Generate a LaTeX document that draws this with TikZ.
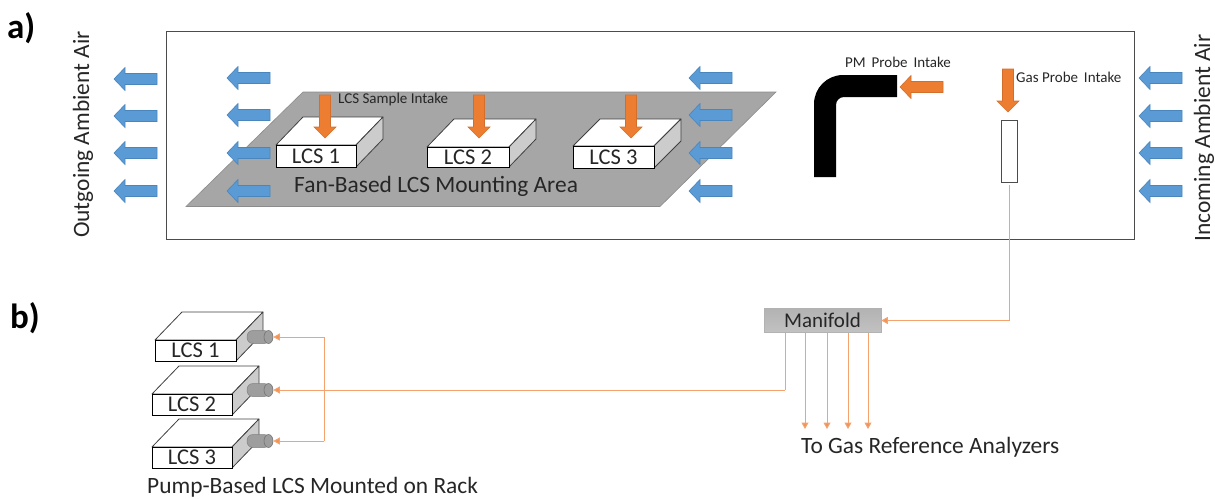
\documentclass[tikz,border=0pt]{standalone}
\usepackage{fontspec}
\setmainfont{Carlito}
\usetikzlibrary{arrows.meta,shapes.geometric}
\definecolor{blk}{HTML}{5B9BD5}
\definecolor{blkd}{HTML}{4A86BE}
\definecolor{org}{HTML}{ED7D31}
\definecolor{orgd}{HTML}{D46F2B}
\definecolor{conn}{HTML}{F4A26E}
\definecolor{txt}{HTML}{262626}
\tikzset{
  frontbox/.style={draw=black,line width=0.9pt,fill=white,inner sep=0pt,font=\fontsize{22.5}{22.5}\selectfont,text=txt},
  topface/.style={draw=black!75,line width=0.8pt,fill=white,line join=round},
  sideface/.style={draw=black!75,line width=0.8pt,fill=black!20,line join=round},
  conline/.style={draw=conn,line width=1pt},
  conarrow/.style={conline,-{Triangle[length=6.5pt,width=7pt,fill=conn!60!org]}},
  label/.style={inner sep=0pt,text=txt},
  small/.style={label,font=\fontsize{15}{15}\selectfont},
  mid/.style={label,font=\fontsize{23.4}{23.4}\selectfont},
  head/.style={inner sep=0pt,font=\bfseries\fontsize{35}{35}\selectfont,text=black},
  cylbody/.style={fill=black!38,draw=black!50,line width=0.5pt,rounded corners=6pt},
  cylcap/.style={ellipse,fill=black!38,draw=black!55,line width=0.6pt,minimum width=9pt,minimum height=13pt,inner sep=0pt}
}
% left-pointing block arrow: tip x, centre y
\newcommand{\leftblock}[4]{\filldraw[fill=#3,draw=#4,line width=0.6pt,line join=miter]
  (#1,#2) -- ++(11,-11.5) -- ++(0,6) -- ++(32,0) -- ++(0,11) -- ++(-32,0) -- ++(0,6) -- cycle;}
% down-pointing orange block arrow: centre x, top y
\newcommand{\downblock}[2]{\filldraw[fill=org,draw=orgd,line width=0.6pt]
  (#1-5.5,#2) -- ++(11,0) -- ++(0,32) -- ++(5.5,0) -- ++(-11,11) -- ++(-11,-11) -- ++(5.5,0) -- cycle;}
% LCS box: name, front x1,x2,y1,y2, depth dx,dy, text
\newcommand{\lcsbox}[8]{%
  \filldraw[topface] (#2,#4) -- ++(#6,-#7) -- (#3+#6,#4-#7) -- (#3,#4) -- cycle;
  \filldraw[sideface] (#3,#4) -- (#3+#6,#4-#7) -- (#3+#6,#5-#7) -- (#3,#5) -- cycle;
  \node[frontbox,minimum width=#3pt-#2pt,minimum height=#5pt-#4pt] (#1) at ({(#2+#3)/2},{(#4+#5)/2}) {#8};}
% pump cylinder: name, centre y
\newcommand{\pump}[2]{%
  \filldraw[cylbody] (247,#2-6.5) rectangle (270,#2+6.5);
  \node[cylcap] (#1) at (268.5,#2) {};}
\begin{document}
\begin{tikzpicture}[x=1pt,y=-1pt]
\useasboundingbox (0,0) rectangle (1215,498);
\node[head,anchor=west] (hA) at (7,28) {a)};
\node[head,anchor=west] (hB) at (10,318) {b)};
\draw[draw=black!70,line width=1pt] (166.5,31.5) rectangle (1134,239);
\filldraw[fill=black!35,draw=black!45,line width=0.6pt] (303,92) -- (776,92) -- (660,206.5) -- (186,206.5) -- cycle;
% blue arrows
\foreach \x/\y in {114/79,114/116,114/153,114/191,
                   227/78,227/115,227/153,227/191,
                   689/78,689/115,689/153,689/191,
                   1139/78,1139/116,1139/153,1139/191}{\leftblock{\x}{\y}{blk}{blkd}}
% fan LCS
\lcsbox{fan1}{276}{356}{145}{167}{27}{28}{LCS 1}
\lcsbox{fan2}{427}{509}{147}{167}{27}{28}{LCS 2}
\lcsbox{fan3}{573}{654}{146}{168}{27}{27}{LCS 3}
\downblock{325}{95}
\downblock{479}{95}
\downblock{631}{95}
\node[small,anchor=west] (lsi) at (338,99) {LCS Sample Intake};
\node[mid,anchor=west] (fan) at (294,186) {Fan-Based LCS Mounting Area};
% PM probe
\fill[black] (814,177) -- (814,104) arc[start angle=180,end angle=270,radius=29] -- (897,75) -- (897,97) -- (844,97) arc[start angle=270,end angle=180,radius=8] -- (836,177) -- cycle;
\leftblock{900}{87}{org}{orgd}
\node[small,anchor=west] (pmi) at (845,62) {PM\ \,Probe\ \,Intake};
% gas probe
\downblock{1008}{69}
\node[small,anchor=west] (gpi) at (1016,77) {Gas Probe\ \,Intake};
\node[draw=black!70,line width=0.8pt,fill=white,minimum width=16pt,minimum height=62pt,inner sep=0pt] (gas) at (1009,151) {};
% side labels
\node[mid,rotate=90] (out) at (83,134.5) {Outgoing Ambient Air};
\node[mid,rotate=90] (inc) at (1204,138) {Incoming Ambient Air};
% manifold
\node[draw=black!30,line width=0.6pt,top color=black!30,bottom color=black!24,minimum width=117pt,minimum height=24.5pt,inner sep=0pt,font=\fontsize{21}{21}\selectfont,text=txt] (man) at (822.5,320.5) {Manifold};
\coordinate (gasout) at (1009,185);
\draw[conarrow] (gasout) |- (man.east);
\foreach \x/\n in {805/a,827/b,848/c,868/d}{
  \coordinate (m\n) at (\x,333);
  \coordinate (e\n) at (\x,429);
  \draw[conarrow] (m\n) -- (e\n);
}
\node[mid,anchor=west] (togas) at (801,447) {To Gas Reference Analyzers};
% rack LCS
\lcsbox{r1}{155}{236}{340}{361}{27}{28}{LCS 1}
\lcsbox{r2}{152}{232}{394}{415}{27}{28}{LCS 2}
\lcsbox{r3}{152}{232}{447}{468}{27}{28}{LCS 3}
\pump{c1}{337}
\pump{c2}{390}
\pump{c3}{441}
\coordinate (m0) at (785,333);
\coordinate (j) at (785,390);
\coordinate (v1) at (324,337);
\coordinate (v3) at (324,441);
\draw[conline] (m0) -- (j);
\draw[conarrow] (j) -- (c2.east);
\draw[conline] (v1) -- (v3);
\draw[conarrow] (v1) -- (c1.east);
\draw[conarrow] (v3) -- (c3.east);
\node[mid,anchor=west] (rack) at (147,487) {Pump-Based LCS Mounted on Rack};
\end{tikzpicture}
\end{document}
